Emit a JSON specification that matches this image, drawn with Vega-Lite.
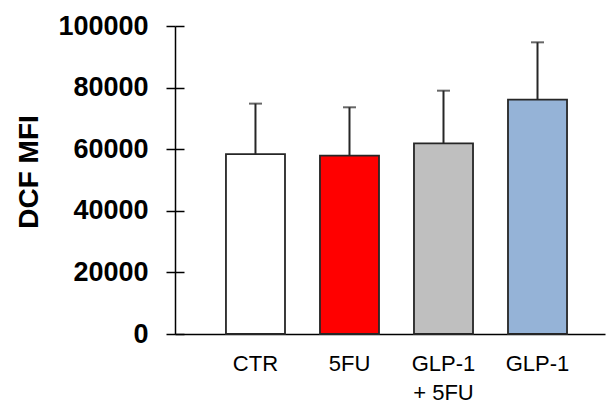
{
  "$schema": "https://vega.github.io/schema/vega-lite/v6.json",
  "autosize": "none",
  "width": 430,
  "height": 308,
  "padding": {"left": 175, "top": 26, "right": 3, "bottom": 72},
  "background": "white",
  "config": {
    "view": {"stroke": null},
    "font": "Liberation Sans",
    "axis": {"grid": false, "domainColor": "black", "tickColor": "black", "domainWidth": 1.5, "tickWidth": 1.5, "labelColor": "black", "titleColor": "black", "labelFont": "Liberation Sans", "titleFont": "Liberation Sans"}
  },
  "data": {
    "values": [
      {"group": "CTR", "value": 58400, "err": 74800},
      {"group": "5FU", "value": 57900, "err": 73600},
      {"group": "GLP-1\n+ 5FU", "value": 61900, "err": 79000},
      {"group": "GLP-1", "value": 76100, "err": 94700}
    ]
  },
  "resolve": {"axis": {"y": "independent"}},
  "encoding": {
    "x": {
      "field": "group",
      "type": "nominal",
      "sort": null,
      "scale": {"paddingInner": 0.372, "paddingOuter": 0.473, "align": 0.573},
      "axis": {
        "title": null,
        "labelAngle": 0,
        "ticks": false,
        "tickSize": 0,
        "labelPadding": 19,
        "labelFontSize": 22,
        "labelLineHeight": 29,
        "labelExpr": "split(datum.label, '\\n')"
      }
    }
  },
  "layer": [
    {
      "mark": {"type": "bar", "stroke": "#262626", "strokeWidth": 1.8},
      "encoding": {
        "y": {
          "field": "value",
          "type": "quantitative",
          "scale": {"domain": [0, 100000], "nice": false},
          "axis": {
            "orient": "left",
            "values": [0, 20000, 40000, 60000, 80000, 100000],
            "tickSize": 9,
            "labelPadding": 18,
            "labelFontSize": 27,
            "labelFontWeight": "bold",
            "format": "d",
            "title": "DCF MFI",
            "titleFontSize": 28,
            "titleFontWeight": "bold",
            "titleAngle": -90,
            "titleX": -138,
            "titleY": 145.5,
            "titleAlign": "center",
            "titleBaseline": "alphabetic"
          }
        },
        "color": {
          "field": "group",
          "type": "nominal",
          "scale": {"domain": ["CTR", "5FU", "GLP-1\n+ 5FU", "GLP-1"], "range": ["#FFFFFF", "#FF0000", "#BFBFBF", "#95B3D7"]},
          "legend": null
        }
      }
    },
    {
      "mark": {"type": "rule", "color": "#262626", "strokeWidth": 2},
      "encoding": {
        "y": {"field": "value", "type": "quantitative", "axis": null},
        "y2": {"field": "err"}
      }
    },
    {
      "mark": {"type": "tick", "color": "#262626", "size": 13, "thickness": 2},
      "encoding": {
        "y": {
          "field": "err",
          "type": "quantitative",
          "axis": {
            "orient": "left",
            "offset": -9,
            "values": [0, 20000, 40000, 60000, 80000, 100000],
            "tickSize": 9,
            "labels": false,
            "domain": false,
            "title": null
          }
        }
      }
    }
  ]
}
